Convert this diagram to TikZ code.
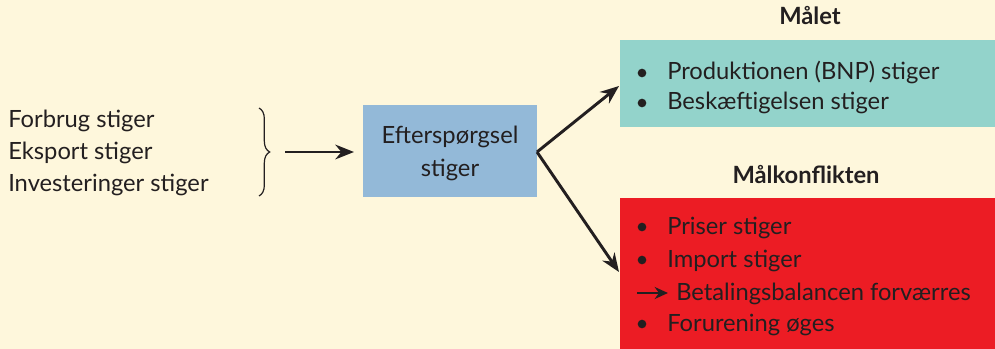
\documentclass[tikz,border=0pt]{standalone}
\usepackage{fontspec}
\setmainfont{Lato}
\usetikzlibrary{arrows.meta,decorations.pathreplacing}
\definecolor{bg}{HTML}{FEF7DC}
\definecolor{bluebox}{HTML}{93B9D8}
\definecolor{tealbox}{HTML}{93D3CB}
\definecolor{redbox}{HTML}{EC1C24}
\definecolor{ink}{HTML}{231F20}
\tikzset{
  txt/.style={anchor=base west, inner sep=0pt, font=\fontsize{17.8}{20}\selectfont, text=ink},
  head/.style={anchor=base, inner sep=0pt, font=\fontsize{17.8}{20}\selectfont\bfseries, text=ink},
  conn/.style={draw=ink, line width=2.2pt, -{Stealth[length=14pt,width=11pt]}},
  bul/.style={circle, fill=ink, inner sep=0pt, minimum size=6.5pt},
}
\begin{document}
\begin{tikzpicture}[x=0.75pt,y=-0.75pt]
\useasboundingbox (0,0) rectangle (995,349);
\fill[bg] (0,0) rectangle (995,349);
% left texts
\node[txt] (t1) at (8,128) {Forbrug stiger};
\node[txt] (t2) at (8,160) {Eksport stiger};
\node[txt] (t3) at (8,191) {Investeringer stiger};
\coordinate (bt) at (259,108);
\coordinate (bb) at (259,196);
\draw[ink, line width=0.9pt, decorate, decoration={brace, amplitude=8pt}] (bt) -- (bb);
\coordinate (a1) at (285,152);
\coordinate (a2) at (354,152);
\draw[conn] (a1) -- (a2);
% blue box
\node[fill=bluebox, minimum width=174*0.75pt, minimum height=92*0.75pt, inner sep=0pt, anchor=north west] (ef) at (363,105) {};
\node[anchor=base, inner sep=0pt, font=\fontsize{17.8}{20}\selectfont, text=ink] (ef1) at (450,144) {Efterspørgsel};
\node[anchor=base, inner sep=0pt, font=\fontsize{17.8}{20}\selectfont, text=ink] (ef2) at (450,176) {stiger};
% headings
\node[head] (h1) at (810,25) {Målet};
\node[head] (h2) at (806,183) {Målkonflikten};
% teal box
\node[fill=tealbox, minimum width=375*0.75pt, minimum height=87*0.75pt, inner sep=0pt, anchor=north west] (mal) at (620,40) {};
\node[bul] (b1) at (642,73) {};
\node[txt] (p1) at (667,80) {Produktionen (BNP) stiger};
\node[bul] (b2) at (642,103) {};
\node[txt] (p2) at (667,110) {Beskæftigelsen stiger};
% red box
\node[fill=redbox, minimum width=375*0.75pt, minimum height=151*0.75pt, inner sep=0pt, anchor=north west] (kon) at (620,198) {};
\node[bul] (b3) at (642,227) {};
\node[txt] (k1) at (667,234) {Priser stiger};
\node[bul] (b4) at (642,260) {};
\node[txt] (k2) at (667,267) {Import stiger};
\coordinate (s1) at (637,293);
\coordinate (s2) at (668,293);
\draw[draw=ink, line width=1.8pt, -{Stealth[length=10pt,width=9pt]}] (s1) -- (s2);
\node[txt] (k3) at (676,300) {Betalingsbalancen forværres};
\node[bul] (b5) at (642,324) {};
\node[txt] (k4) at (667,331) {Forurening øges};
% connectors
\coordinate (o) at (537,152);
\draw[conn] (o) -- (619,86);
\draw[conn] (o) -- (619,272);
\end{tikzpicture}
\end{document}
